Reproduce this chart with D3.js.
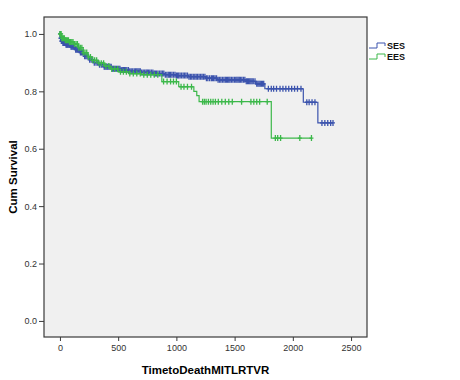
<!DOCTYPE html>
<html>
<head>
<meta charset="utf-8">
<script src="https://cdnjs.cloudflare.com/ajax/libs/d3/7.8.5/d3.min.js"></script>
<style>
  body { margin: 0; background: #fff; }
  text { font-family: Arial, "Liberation Sans", sans-serif; }
</style>
</head>
<body>
<svg id="chart"></svg>
<script>
var width = 460;
var height = 380;

var groups = ["SES", "EES"];
var colors = ["#3b53ad", "#3cb84a"];

// SES: step times and survival after each step
var sesTimes = [0, 3, 10, 25, 50, 90, 130, 170, 210, 250, 290, 330, 380, 450, 520, 600, 700, 800, 900, 1000, 1100, 1250, 1350, 1600, 1680, 1760, 2090, 2215];
var sesSurv = [1.0, 0.985, 0.975, 0.968, 0.962, 0.955, 0.945, 0.935, 0.922, 0.91, 0.9, 0.893, 0.886, 0.879, 0.874, 0.87, 0.866, 0.862, 0.858, 0.855, 0.851, 0.846, 0.84, 0.835, 0.826, 0.809, 0.762, 0.69];
var sesCensored = [2, 5, 8, 12, 15, 18, 22, 26, 30, 34, 38, 42, 46, 52, 58, 64, 70, 76, 82, 88, 95, 102, 110, 118, 126, 135, 144, 152, 160, 168, 176, 185, 194, 203, 212, 222, 232, 242, 255, 268, 280, 295, 310, 325, 340, 355, 370, 380, 388, 397, 405, 412, 420, 430, 440, 450, 458, 466, 475, 485, 495, 505, 515, 525, 535, 545, 555, 565, 575, 588, 600, 612, 625, 638, 650, 660, 670, 680, 690, 702, 715, 728, 740, 750, 760, 772, 785, 798, 810, 820, 830, 842, 855, 868, 880, 892, 905, 918, 930, 940, 950, 962, 975, 988, 1000, 1010, 1020, 1032, 1045, 1058, 1070, 1082, 1095, 1108, 1120, 1132, 1145, 1158, 1170, 1182, 1195, 1208, 1220, 1232, 1245, 1258, 1270, 1285, 1300, 1310, 1320, 1332, 1345, 1358, 1370, 1382, 1395, 1408, 1420, 1430, 1440, 1450, 1460, 1472, 1485, 1498, 1510, 1520, 1530, 1540, 1550, 1562, 1575, 1588, 1600, 1610, 1620, 1630, 1640, 1650, 1660, 1675, 1690, 1700, 1710, 1720, 1730, 1740, 1750, 1790, 1815, 1835, 1860, 1890, 1915, 1940, 1965, 1990, 2015, 2040, 2070, 2120, 2140, 2165, 2190, 2250, 2275, 2300, 2325, 2345];

// EES
var eesTimes = [0, 15, 40, 80, 120, 160, 200, 240, 280, 330, 380, 430, 500, 600, 700, 875, 1020, 1150, 1175, 1195, 1815];
var eesSurv = [1.0, 0.985, 0.978, 0.972, 0.965, 0.952, 0.935, 0.92, 0.908, 0.898, 0.888, 0.878, 0.868, 0.862, 0.858, 0.834, 0.816, 0.8, 0.785, 0.764, 0.637];
var eesCensored = [0, 4, 10, 16, 22, 30, 38, 46, 55, 64, 73, 82, 92, 102, 112, 125, 138, 150, 162, 175, 188, 200, 215, 230, 245, 262, 280, 298, 315, 335, 355, 375, 395, 420, 445, 470, 495, 520, 545, 570, 600, 630, 660, 690, 720, 750, 780, 810, 840, 890, 920, 950, 975, 1000, 1040, 1065, 1095, 1130, 1225, 1240, 1255, 1275, 1295, 1315, 1335, 1360, 1390, 1420, 1450, 1480, 1560, 1640, 1665, 1690, 1715, 1780, 1850, 1870, 1895, 2060, 2160];

var xTicks = [0, 500, 1000, 1500, 2000, 2500];
var yTicks = [0.0, 0.2, 0.4, 0.6, 0.8, 1.0];

var plot = {left: 44, right: 367, top: 17, bottom: 337};

var x = d3.scaleLinear().domain([-137, 2637]).range([plot.left, plot.right]);
var y = d3.scaleLinear().domain([-0.056, 1.059]).range([plot.bottom, plot.top]);

var svg = d3.select("#chart").attr("width", width).attr("height", height);

svg.append("rect")
    .attr("x", plot.left).attr("y", plot.top)
    .attr("width", plot.right - plot.left).attr("height", plot.bottom - plot.top)
    .attr("fill", "#f0f0f0");

var series = [
    {name: groups[0], times: sesTimes, surv: sesSurv, cens: sesCensored, color: colors[0]},
    {name: groups[1], times: eesTimes, surv: eesSurv, cens: eesCensored, color: colors[1]}
];

function survAt(s, t) {
    var v = s.surv[0];
    for (var i = 0; i < s.times.length; i++) {
        if (s.times[i] <= t) v = s.surv[i];
    }
    return v;
}

var line = d3.line()
    .x(function(d) { return x(d[0]); })
    .y(function(d) { return y(d[1]); })
    .curve(d3.curveStepAfter);

series.forEach(function(s) {
    var pts = s.times.map(function(t, i) { return [t, s.surv[i]]; });
    var last = d3.max(s.cens);
    pts.push([last, s.surv[s.surv.length - 1]]);
    var g = svg.append("g");
    g.append("path")
        .attr("d", line(pts))
        .attr("fill", "none")
        .attr("stroke", s.color)
        .attr("stroke-width", 1.2);
    g.selectAll("path.cens")
        .data(s.cens)
        .enter().append("path")
        .attr("class", "cens")
        .attr("d", function(t) {
            var cx = x(t), cy = y(survAt(s, t));
            return "M" + (cx - 2) + "," + cy + "H" + (cx + 2) + "M" + cx + "," + (cy - 3) + "V" + (cy + 3);
        })
        .attr("stroke", s.color)
        .attr("stroke-width", 1.3);
});

// frame
svg.append("rect")
    .attr("x", plot.left).attr("y", plot.top)
    .attr("width", plot.right - plot.left).attr("height", plot.bottom - plot.top)
    .attr("fill", "none")
    .attr("stroke", "#3a3a3a")
    .attr("stroke-width", 1.2);

var xAxis = svg.append("g")
    .attr("transform", "translate(0," + plot.bottom + ")")
    .call(d3.axisBottom(x).tickValues(xTicks).tickSize(4).tickPadding(4).tickFormat(d3.format("d")));
var yAxis = svg.append("g")
    .attr("transform", "translate(" + plot.left + ",0)")
    .call(d3.axisLeft(y).tickValues(yTicks).tickSize(5).tickPadding(2).tickFormat(d3.format(".1f")));

[xAxis, yAxis].forEach(function(a) {
    a.select(".domain").remove();
    a.selectAll(".tick line").attr("stroke", "#3a3a3a");
    a.selectAll(".tick text")
        .attr("fill", "#333")
        .style("font-size", "9px")
        .style("font-family", "Arial, 'Liberation Sans', sans-serif");
});

svg.append("text")
    .attr("x", (plot.left + plot.right) / 2)
    .attr("y", 374)
    .attr("text-anchor", "middle")
    .style("font-size", "11.5px")
    .style("font-weight", "bold")
    .text("TimetoDeathMITLRTVR");

svg.append("text")
    .attr("transform", "translate(17," + ((plot.top + plot.bottom) / 2) + ") rotate(-90)")
    .attr("text-anchor", "middle")
    .style("font-size", "11.5px")
    .style("font-weight", "bold")
    .text("Cum Survival");

// legend
var legend = svg.append("g").attr("transform", "translate(369,43)");
series.forEach(function(s, i) {
    var gy = i * 11;
    legend.append("path")
        .attr("d", "M0," + (gy + 5) + "H8V" + gy + "H16V" + (gy + 3))
        .attr("fill", "none")
        .attr("stroke", s.color)
        .attr("stroke-width", 1);
    legend.append("text")
        .attr("x", 18)
        .attr("y", gy + 6)
        .style("font-size", "9px")
        .style("font-weight", "bold")
        .attr("fill", "#111")
        .text(s.name);
});
</script>
</body>
</html>
